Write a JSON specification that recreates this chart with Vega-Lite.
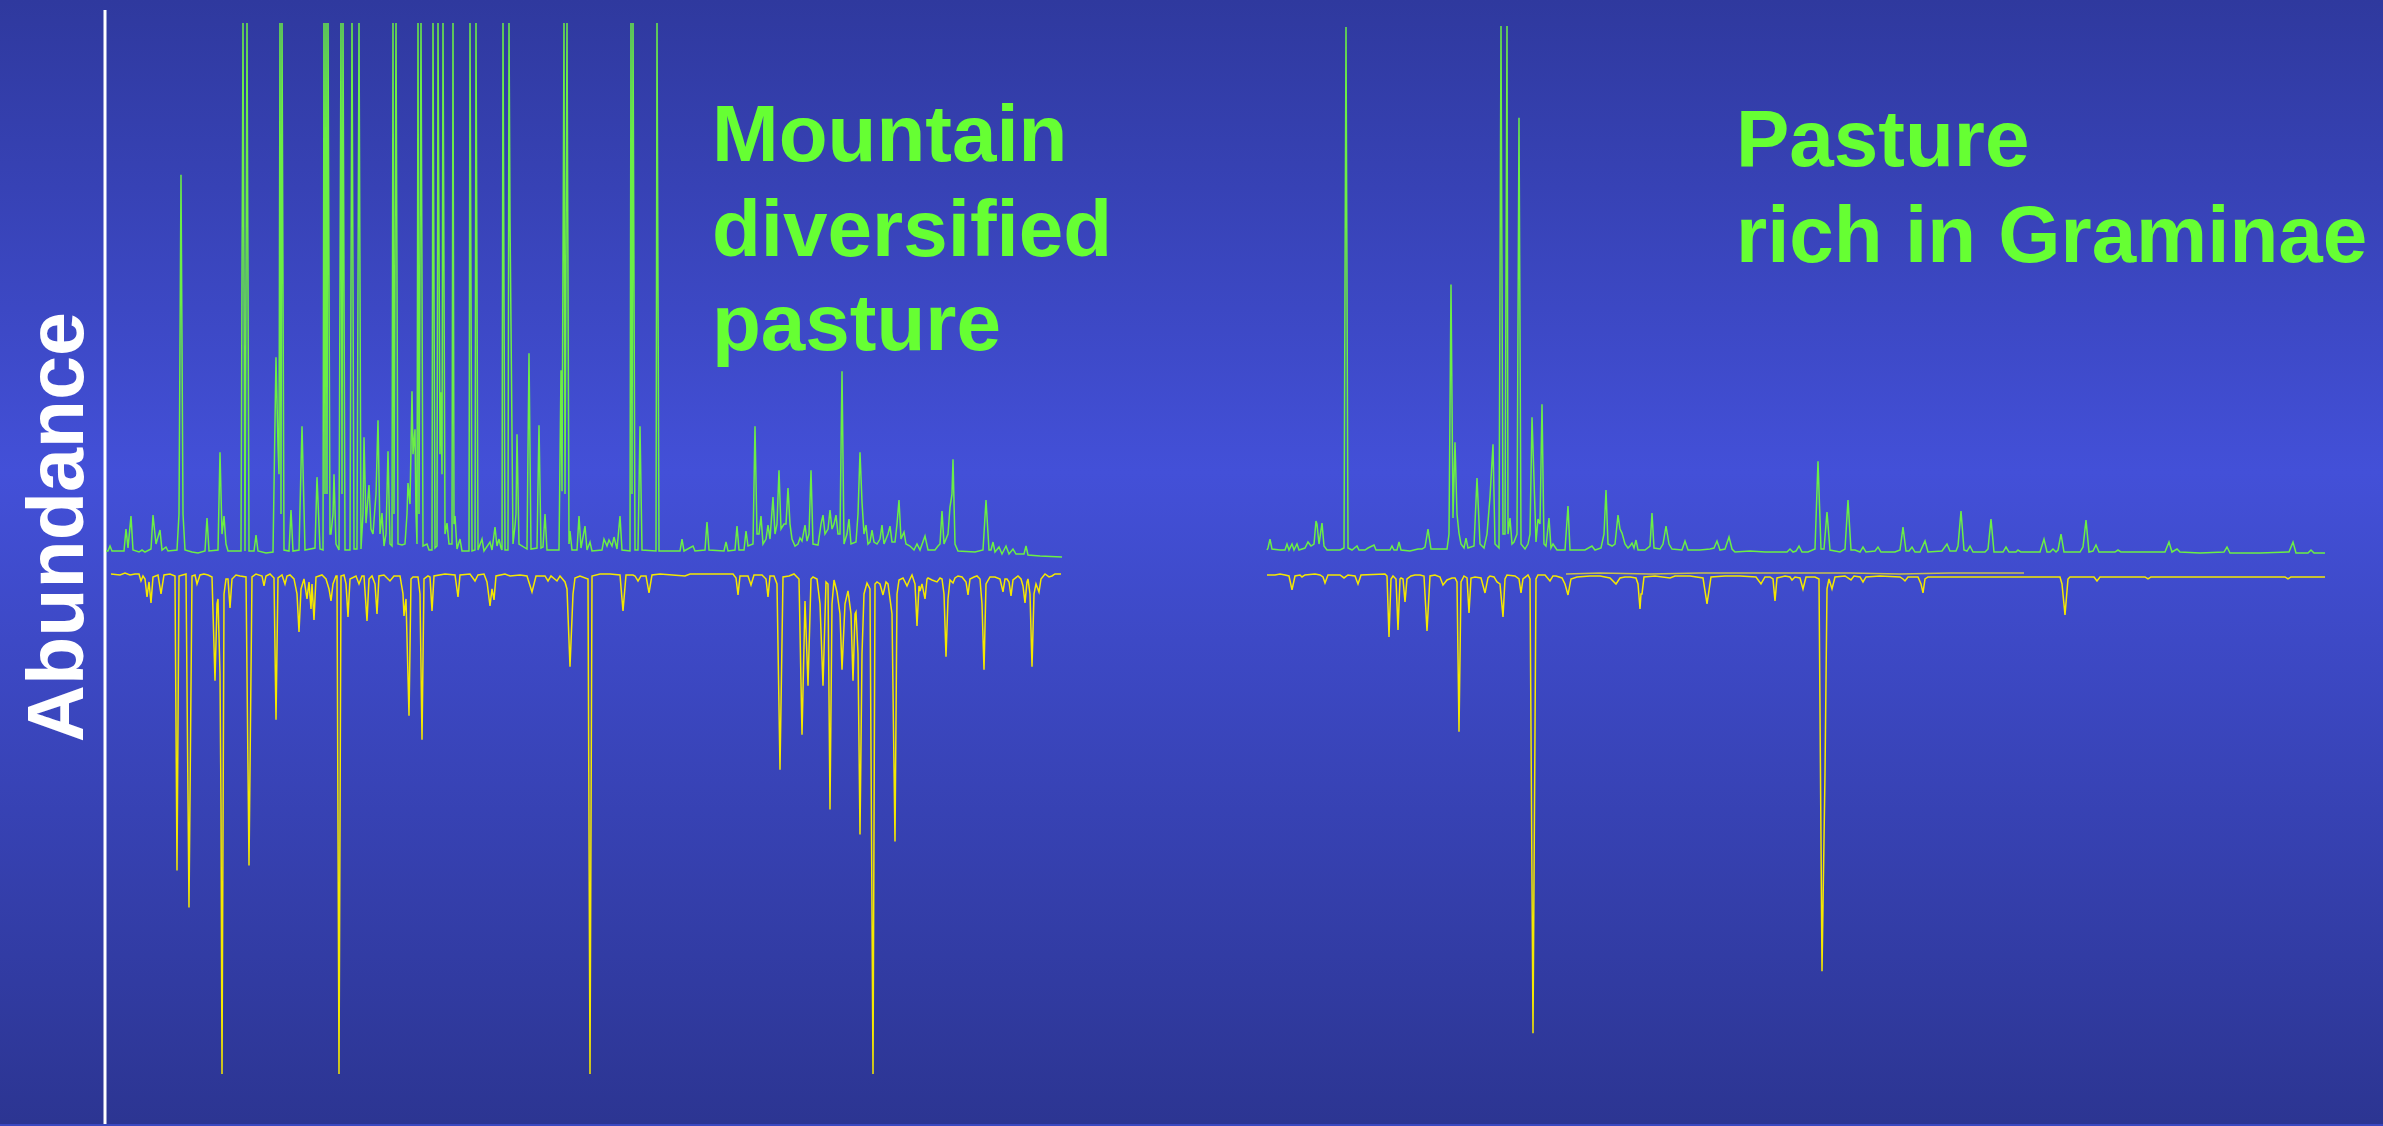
{
"$schema": "https://vega.github.io/schema/vega-lite/v6.json",
"width": 2383, "height": 1126,
"autosize": {"type": "fit", "contains": "padding"},
"padding": 0,
"background": "#3A47C0",
"config": {"view": {"stroke": null}},
"layer": [
{"data": {"values": [{"x0": 0, "x1": 2383, "a0": -551, "a1": 575}]},
 "mark": {"type": "rect", "color": {"gradient": "linear", "x1": 0, "y1": 0, "x2": 0, "y2": 1, "stops": [{"offset": 0, "color": "#2F399E"}, {"offset": 0.42, "color": "#4350D8"}, {"offset": 1, "color": "#2C3592"}]}},
 "encoding": {"x": {"field": "x0", "type": "quantitative", "scale": {"domain": [0, 2383], "nice": false, "zero": false}, "axis": null}, "x2": {"field": "x1"},
  "y": {"field": "a0", "type": "quantitative", "scale": {"domain": [-551, 575], "nice": false, "zero": false}, "axis": null}, "y2": {"field": "a1"}}},
{"data": {"values": [{"x": 105, "a0": 565, "a1": -551}]},
 "mark": {"type": "rule", "color": "#FFFFFF", "strokeWidth": 3},
 "encoding": {"x": {"field": "x", "type": "quantitative", "scale": {"domain": [0, 2383], "nice": false, "zero": false}, "axis": null},
  "y": {"field": "a0", "type": "quantitative", "scale": {"domain": [-551, 575], "nice": false, "zero": false}, "axis": null}, "y2": {"field": "a1"}}},
{"data": {"values": [
{"x":106,"a":23},{"x":108,"a":23},{"x":110,"a":28},{"x":112,"a":23},{"x":124,"a":23},{"x":126,"a":45},{"x":128,"a":26},{"x":131,"a":58},{"x":133,"a":24},{"x":139,"a":22},{"x":142,"a":24},{"x":145,"a":22},{"x":151,"a":25},{"x":153,"a":59},{"x":156,"a":30},{"x":160,"a":44},{"x":162,"a":24},{"x":166,"a":27},{"x":168,"a":23},{"x":177,"a":24},{"x":179,"a":60},{"x":181,"a":400},{"x":183,"a":60},{"x":185,"a":24},{"x":192,"a":22},{"x":198,"a":21},{"x":205,"a":23},{"x":207,"a":56},{"x":209,"a":23},{"x":218,"a":24},{"x":220,"a":122},{"x":222,"a":40},{"x":224,"a":58},{"x":226,"a":30},{"x":228,"a":23},{"x":241,"a":23},{"x":243,"a":552},{"x":245,"a":23},{"x":247,"a":552},{"x":249,"a":23},{"x":254,"a":23},{"x":256,"a":39},{"x":258,"a":23},{"x":266,"a":21},{"x":273,"a":22},{"x":276,"a":217},{"x":278,"a":127},{"x":279,"a":100},{"x":280,"a":552},{"x":281,"a":60},{"x":282,"a":552},{"x":284,"a":24},{"x":289,"a":23},{"x":291,"a":64},{"x":293,"a":23},{"x":299,"a":24},{"x":302,"a":148},{"x":305,"a":24},{"x":315,"a":26},{"x":317,"a":97},{"x":320,"a":25},{"x":323,"a":24},{"x":324,"a":552},{"x":325,"a":80},{"x":326,"a":552},{"x":327,"a":80},{"x":328,"a":552},{"x":330,"a":40},{"x":331,"a":40},{"x":333,"a":60},{"x":334,"a":100},{"x":336,"a":30},{"x":339,"a":24},{"x":341,"a":552},{"x":342,"a":80},{"x":343,"a":552},{"x":345,"a":24},{"x":350,"a":24},{"x":352,"a":552},{"x":354,"a":25},{"x":357,"a":25},{"x":359,"a":552},{"x":361,"a":25},{"x":363,"a":60},{"x":364,"a":137},{"x":366,"a":51},{"x":369,"a":89},{"x":371,"a":45},{"x":373,"a":40},{"x":376,"a":80},{"x":378,"a":154},{"x":380,"a":40},{"x":382,"a":61},{"x":384,"a":28},{"x":386,"a":40},{"x":388,"a":123},{"x":390,"a":30},{"x":392,"a":28},{"x":393,"a":552},{"x":394,"a":60},{"x":396,"a":552},{"x":398,"a":30},{"x":402,"a":29},{"x":405,"a":30},{"x":407,"a":60},{"x":408,"a":91},{"x":410,"a":70},{"x":412,"a":183},{"x":413,"a":120},{"x":415,"a":145},{"x":416,"a":60},{"x":417,"a":30},{"x":418,"a":552},{"x":419,"a":60},{"x":421,"a":552},{"x":423,"a":28},{"x":427,"a":30},{"x":429,"a":24},{"x":432,"a":24},{"x":433,"a":552},{"x":435,"a":26},{"x":437,"a":28},{"x":438,"a":552},{"x":440,"a":120},{"x":441,"a":182},{"x":442,"a":100},{"x":443,"a":552},{"x":445,"a":40},{"x":447,"a":51},{"x":449,"a":30},{"x":452,"a":30},{"x":453,"a":552},{"x":454,"a":50},{"x":455,"a":58},{"x":457,"a":25},{"x":460,"a":35},{"x":462,"a":23},{"x":469,"a":23},{"x":470,"a":552},{"x":472,"a":23},{"x":475,"a":24},{"x":476,"a":552},{"x":478,"a":24},{"x":482,"a":35},{"x":484,"a":23},{"x":490,"a":32},{"x":492,"a":24},{"x":495,"a":47},{"x":497,"a":28},{"x":499,"a":35},{"x":501,"a":26},{"x":502,"a":24},{"x":503,"a":552},{"x":505,"a":24},{"x":508,"a":24},{"x":509,"a":552},{"x":510,"a":356},{"x":511,"a":250},{"x":513,"a":30},{"x":515,"a":48},{"x":516,"a":60},{"x":517,"a":140},{"x":519,"a":30},{"x":527,"a":25},{"x":529,"a":221},{"x":531,"a":25},{"x":537,"a":26},{"x":539,"a":149},{"x":541,"a":26},{"x":543,"a":27},{"x":545,"a":60},{"x":547,"a":24},{"x":559,"a":24},{"x":561,"a":204},{"x":562,"a":83},{"x":564,"a":552},{"x":565,"a":80},{"x":567,"a":552},{"x":569,"a":30},{"x":570,"a":43},{"x":572,"a":24},{"x":577,"a":24},{"x":579,"a":58},{"x":581,"a":26},{"x":585,"a":48},{"x":587,"a":24},{"x":590,"a":32},{"x":592,"a":23},{"x":602,"a":24},{"x":604,"a":35},{"x":607,"a":28},{"x":609,"a":34},{"x":612,"a":28},{"x":614,"a":37},{"x":617,"a":25},{"x":620,"a":58},{"x":622,"a":24},{"x":630,"a":23},{"x":631,"a":552},{"x":632,"a":80},{"x":633,"a":552},{"x":635,"a":24},{"x":638,"a":24},{"x":640,"a":148},{"x":642,"a":24},{"x":656,"a":23},{"x":657,"a":552},{"x":659,"a":23},{"x":670,"a":23},{"x":680,"a":23},{"x":682,"a":35},{"x":684,"a":23},{"x":693,"a":28},{"x":695,"a":23},{"x":705,"a":24},{"x":707,"a":52},{"x":709,"a":24},{"x":724,"a":23},{"x":726,"a":32},{"x":728,"a":23},{"x":735,"a":24},{"x":737,"a":48},{"x":739,"a":24},{"x":744,"a":24},{"x":746,"a":43},{"x":748,"a":28},{"x":753,"a":30},{"x":755,"a":148},{"x":757,"a":40},{"x":759,"a":40},{"x":761,"a":58},{"x":763,"a":30},{"x":766,"a":35},{"x":768,"a":49},{"x":770,"a":35},{"x":773,"a":77},{"x":775,"a":40},{"x":777,"a":50},{"x":779,"a":104},{"x":781,"a":45},{"x":784,"a":50},{"x":786,"a":50},{"x":788,"a":86},{"x":790,"a":50},{"x":792,"a":35},{"x":795,"a":28},{"x":798,"a":30},{"x":800,"a":36},{"x":802,"a":33},{"x":805,"a":49},{"x":807,"a":33},{"x":809,"a":40},{"x":811,"a":104},{"x":813,"a":30},{"x":818,"a":29},{"x":821,"a":50},{"x":823,"a":59},{"x":825,"a":40},{"x":828,"a":45},{"x":830,"a":64},{"x":832,"a":45},{"x":834,"a":50},{"x":836,"a":59},{"x":838,"a":40},{"x":840,"a":40},{"x":842,"a":203},{"x":844,"a":30},{"x":847,"a":40},{"x":849,"a":55},{"x":851,"a":30},{"x":856,"a":32},{"x":858,"a":60},{"x":860,"a":122},{"x":862,"a":72},{"x":864,"a":40},{"x":866,"a":49},{"x":868,"a":30},{"x":870,"a":32},{"x":872,"a":44},{"x":874,"a":32},{"x":877,"a":30},{"x":880,"a":35},{"x":882,"a":49},{"x":884,"a":30},{"x":888,"a":40},{"x":890,"a":48},{"x":892,"a":32},{"x":895,"a":32},{"x":897,"a":50},{"x":899,"a":74},{"x":901,"a":35},{"x":904,"a":42},{"x":906,"a":30},{"x":910,"a":28},{"x":914,"a":24},{"x":917,"a":30},{"x":920,"a":24},{"x":925,"a":38},{"x":928,"a":24},{"x":935,"a":24},{"x":938,"a":28},{"x":940,"a":30},{"x":942,"a":63},{"x":944,"a":30},{"x":948,"a":40},{"x":950,"a":67},{"x":952,"a":80},{"x":953,"a":115},{"x":955,"a":30},{"x":958,"a":23},{"x":975,"a":22},{"x":983,"a":24},{"x":986,"a":74},{"x":989,"a":24},{"x":991,"a":24},{"x":993,"a":32},{"x":995,"a":22},{"x":999,"a":27},{"x":1002,"a":20},{"x":1006,"a":28},{"x":1009,"a":20},{"x":1013,"a":25},{"x":1016,"a":20},{"x":1024,"a":20},{"x":1026,"a":28},{"x":1028,"a":19},{"x":1040,"a":18},{"x":1062,"a":17}
]},
 "mark": {"type": "line", "color": "#6BEF45", "strokeWidth": 1.5},
 "encoding": {"x": {"field": "x", "type": "quantitative", "scale": {"domain": [0, 2383], "nice": false, "zero": false}, "axis": null},
  "y": {"field": "a", "type": "quantitative", "scale": {"domain": [-551, 575], "nice": false, "zero": false}, "axis": null}}},
{"data": {"values": [
{"x":111,"a":0},{"x":120,"a":-1},{"x":125,"a":1},{"x":130,"a":-1},{"x":135,"a":0},{"x":139,"a":0},{"x":141,"a":-7},{"x":143,"a":-2},{"x":145,"a":-5},{"x":147,"a":-23},{"x":149,"a":-8},{"x":151,"a":-29},{"x":153,"a":-3},{"x":158,"a":-1},{"x":161,"a":-20},{"x":164,"a":-1},{"x":170,"a":0},{"x":175,"a":-2},{"x":177,"a":-297},{"x":179,"a":-2},{"x":186,"a":0},{"x":189,"a":-334},{"x":192,"a":-2},{"x":195,"a":-1},{"x":197,"a":-10},{"x":200,"a":-1},{"x":204,"a":0},{"x":208,"a":-1},{"x":212,"a":-3},{"x":215,"a":-107},{"x":217,"a":-30},{"x":218,"a":-25},{"x":220,"a":-100},{"x":221,"a":-232},{"x":222,"a":-501},{"x":224,"a":-20},{"x":226,"a":-5},{"x":228,"a":-5},{"x":230,"a":-34},{"x":232,"a":-5},{"x":236,"a":-1},{"x":240,"a":-2},{"x":246,"a":-3},{"x":249,"a":-292},{"x":252,"a":-3},{"x":256,"a":0},{"x":262,"a":-2},{"x":264,"a":-12},{"x":266,"a":-2},{"x":270,"a":0},{"x":274,"a":-4},{"x":276,"a":-146},{"x":278,"a":-4},{"x":282,"a":-1},{"x":285,"a":-10},{"x":287,"a":-2},{"x":290,"a":-1},{"x":294,"a":-5},{"x":297,"a":-20},{"x":299,"a":-58},{"x":301,"a":-15},{"x":304,"a":-5},{"x":307,"a":-25},{"x":309,"a":-8},{"x":311,"a":-35},{"x":312,"a":-10},{"x":314,"a":-46},{"x":316,"a":-3},{"x":322,"a":-1},{"x":326,"a":-5},{"x":329,"a":-15},{"x":331,"a":-27},{"x":333,"a":-10},{"x":336,"a":-2},{"x":337,"a":-2},{"x":339,"a":-501},{"x":341,"a":-2},{"x":344,"a":-1},{"x":346,"a":-10},{"x":348,"a":-43},{"x":350,"a":-5},{"x":356,"a":-2},{"x":359,"a":-10},{"x":362,"a":-2},{"x":364,"a":-2},{"x":367,"a":-47},{"x":369,"a":-5},{"x":372,"a":-2},{"x":375,"a":-10},{"x":377,"a":-40},{"x":379,"a":-2},{"x":384,"a":-1},{"x":390,"a":-7},{"x":394,"a":-2},{"x":400,"a":-2},{"x":403,"a":-20},{"x":404,"a":-42},{"x":406,"a":-25},{"x":409,"a":-142},{"x":411,"a":-5},{"x":413,"a":-3},{"x":418,"a":-3},{"x":420,"a":-20},{"x":422,"a":-166},{"x":424,"a":-5},{"x":428,"a":-2},{"x":430,"a":-3},{"x":432,"a":-37},{"x":434,"a":-2},{"x":445,"a":0},{"x":455,"a":-1},{"x":458,"a":-23},{"x":460,"a":-1},{"x":470,"a":0},{"x":475,"a":-7},{"x":478,"a":-1},{"x":484,"a":0},{"x":487,"a":-8},{"x":490,"a":-32},{"x":492,"a":-15},{"x":494,"a":-26},{"x":496,"a":-2},{"x":505,"a":0},{"x":510,"a":-2},{"x":520,"a":-1},{"x":527,"a":-2},{"x":532,"a":-18},{"x":536,"a":-2},{"x":545,"a":-2},{"x":548,"a":-7},{"x":551,"a":-2},{"x":557,"a":-7},{"x":560,"a":-2},{"x":565,"a":-8},{"x":567,"a":-15},{"x":570,"a":-93},{"x":573,"a":-20},{"x":575,"a":-4},{"x":580,"a":-2},{"x":588,"a":-5},{"x":590,"a":-501},{"x":592,"a":-2},{"x":600,"a":0},{"x":610,"a":0},{"x":620,"a":-1},{"x":623,"a":-37},{"x":626,"a":-1},{"x":633,"a":-1},{"x":635,"a":-2},{"x":638,"a":-7},{"x":641,"a":-2},{"x":646,"a":-2},{"x":649,"a":-19},{"x":652,"a":-1},{"x":660,"a":0},{"x":685,"a":-2},{"x":690,"a":0},{"x":733,"a":0},{"x":736,"a":-4},{"x":738,"a":-21},{"x":740,"a":-2},{"x":745,"a":-2},{"x":748,"a":-2},{"x":751,"a":-11},{"x":754,"a":-1},{"x":762,"a":-1},{"x":766,"a":-5},{"x":768,"a":-23},{"x":770,"a":-2},{"x":774,"a":-2},{"x":777,"a":-10},{"x":780,"a":-196},{"x":783,"a":-3},{"x":789,"a":-2},{"x":794,"a":0},{"x":799,"a":-5},{"x":802,"a":-161},{"x":805,"a":-27},{"x":808,"a":-112},{"x":811,"a":-5},{"x":813,"a":-3},{"x":817,"a":-5},{"x":820,"a":-30},{"x":823,"a":-112},{"x":826,"a":-8},{"x":828,"a":-10},{"x":830,"a":-236},{"x":832,"a":-30},{"x":834,"a":-6},{"x":837,"a":-18},{"x":840,"a":-40},{"x":842,"a":-96},{"x":845,"a":-30},{"x":848,"a":-17},{"x":851,"a":-40},{"x":853,"a":-107},{"x":855,"a":-40},{"x":856,"a":-38},{"x":858,"a":-80},{"x":860,"a":-261},{"x":862,"a":-80},{"x":864,"a":-20},{"x":867,"a":-9},{"x":870,"a":-15},{"x":873,"a":-501},{"x":875,"a":-10},{"x":877,"a":-8},{"x":880,"a":-10},{"x":883,"a":-21},{"x":886,"a":-8},{"x":888,"a":-10},{"x":892,"a":-40},{"x":895,"a":-268},{"x":897,"a":-20},{"x":899,"a":-6},{"x":903,"a":-4},{"x":907,"a":-12},{"x":910,"a":-5},{"x":912,"a":-1},{"x":915,"a":-10},{"x":917,"a":-52},{"x":919,"a":-12},{"x":920,"a":-17},{"x":922,"a":-10},{"x":925,"a":-25},{"x":927,"a":-5},{"x":928,"a":-4},{"x":932,"a":-6},{"x":937,"a":-8},{"x":940,"a":-4},{"x":942,"a":-5},{"x":944,"a":-20},{"x":946,"a":-83},{"x":948,"a":-25},{"x":950,"a":-6},{"x":953,"a":-9},{"x":955,"a":-4},{"x":958,"a":-2},{"x":962,"a":-3},{"x":966,"a":-8},{"x":968,"a":-21},{"x":970,"a":-5},{"x":974,"a":-3},{"x":977,"a":-2},{"x":980,"a":-5},{"x":982,"a":-30},{"x":984,"a":-96},{"x":986,"a":-10},{"x":990,"a":-3},{"x":995,"a":-3},{"x":1000,"a":-5},{"x":1003,"a":-18},{"x":1005,"a":-5},{"x":1007,"a":-5},{"x":1009,"a":-8},{"x":1011,"a":-22},{"x":1013,"a":-6},{"x":1018,"a":-2},{"x":1021,"a":-5},{"x":1023,"a":-12},{"x":1025,"a":-29},{"x":1027,"a":-8},{"x":1028,"a":-5},{"x":1030,"a":-20},{"x":1032,"a":-93},{"x":1034,"a":-20},{"x":1036,"a":-10},{"x":1039,"a":-18},{"x":1041,"a":-5},{"x":1045,"a":0},{"x":1049,"a":-3},{"x":1052,"a":-2},{"x":1055,"a":0},{"x":1061,"a":0}
]},
 "mark": {"type": "line", "color": "#F5E800", "strokeWidth": 1.5},
 "encoding": {"x": {"field": "x", "type": "quantitative", "scale": {"domain": [0, 2383], "nice": false, "zero": false}, "axis": null},
  "y": {"field": "a", "type": "quantitative", "scale": {"domain": [-551, 575], "nice": false, "zero": false}, "axis": null}}},
{"data": {"values": [
{"x":1267,"a":24},{"x":1268,"a":26},{"x":1270,"a":35},{"x":1272,"a":25},{"x":1280,"a":24},{"x":1285,"a":24},{"x":1287,"a":30},{"x":1289,"a":24},{"x":1292,"a":30},{"x":1294,"a":24},{"x":1297,"a":30},{"x":1299,"a":24},{"x":1305,"a":26},{"x":1308,"a":32},{"x":1311,"a":28},{"x":1314,"a":30},{"x":1316,"a":53},{"x":1317,"a":50},{"x":1319,"a":30},{"x":1322,"a":51},{"x":1324,"a":28},{"x":1327,"a":24},{"x":1340,"a":24},{"x":1344,"a":26},{"x":1346,"a":548},{"x":1348,"a":26},{"x":1352,"a":24},{"x":1357,"a":28},{"x":1359,"a":24},{"x":1365,"a":24},{"x":1368,"a":26},{"x":1374,"a":29},{"x":1376,"a":24},{"x":1390,"a":24},{"x":1392,"a":28},{"x":1394,"a":24},{"x":1397,"a":24},{"x":1399,"a":32},{"x":1401,"a":24},{"x":1410,"a":23},{"x":1418,"a":25},{"x":1422,"a":25},{"x":1425,"a":27},{"x":1428,"a":45},{"x":1431,"a":25},{"x":1447,"a":25},{"x":1449,"a":40},{"x":1451,"a":290},{"x":1453,"a":56},{"x":1455,"a":132},{"x":1457,"a":60},{"x":1459,"a":41},{"x":1461,"a":30},{"x":1464,"a":26},{"x":1466,"a":36},{"x":1468,"a":26},{"x":1474,"a":28},{"x":1477,"a":96},{"x":1480,"a":30},{"x":1484,"a":26},{"x":1487,"a":40},{"x":1490,"a":77},{"x":1493,"a":130},{"x":1495,"a":30},{"x":1499,"a":26},{"x":1501,"a":549},{"x":1503,"a":40},{"x":1505,"a":40},{"x":1507,"a":549},{"x":1508,"a":40},{"x":1510,"a":56},{"x":1512,"a":30},{"x":1514,"a":32},{"x":1517,"a":40},{"x":1519,"a":457},{"x":1521,"a":30},{"x":1525,"a":25},{"x":1528,"a":30},{"x":1530,"a":40},{"x":1532,"a":157},{"x":1534,"a":95},{"x":1536,"a":32},{"x":1538,"a":55},{"x":1540,"a":50},{"x":1542,"a":170},{"x":1544,"a":30},{"x":1546,"a":28},{"x":1549,"a":56},{"x":1551,"a":26},{"x":1553,"a":30},{"x":1557,"a":24},{"x":1565,"a":24},{"x":1568,"a":68},{"x":1570,"a":24},{"x":1580,"a":24},{"x":1585,"a":24},{"x":1592,"a":28},{"x":1595,"a":24},{"x":1601,"a":26},{"x":1604,"a":40},{"x":1606,"a":84},{"x":1608,"a":30},{"x":1612,"a":28},{"x":1615,"a":30},{"x":1618,"a":59},{"x":1620,"a":45},{"x":1622,"a":41},{"x":1625,"a":30},{"x":1628,"a":26},{"x":1630,"a":28},{"x":1632,"a":31},{"x":1634,"a":26},{"x":1636,"a":34},{"x":1638,"a":24},{"x":1645,"a":24},{"x":1650,"a":28},{"x":1652,"a":61},{"x":1654,"a":26},{"x":1660,"a":25},{"x":1663,"a":30},{"x":1666,"a":48},{"x":1669,"a":30},{"x":1672,"a":25},{"x":1682,"a":24},{"x":1685,"a":33},{"x":1688,"a":24},{"x":1700,"a":24},{"x":1710,"a":25},{"x":1714,"a":26},{"x":1717,"a":33},{"x":1720,"a":24},{"x":1725,"a":25},{"x":1729,"a":37},{"x":1732,"a":25},{"x":1735,"a":22},{"x":1750,"a":23},{"x":1765,"a":22},{"x":1780,"a":22},{"x":1787,"a":22},{"x":1790,"a":25},{"x":1793,"a":22},{"x":1796,"a":23},{"x":1799,"a":28},{"x":1802,"a":22},{"x":1808,"a":22},{"x":1815,"a":25},{"x":1818,"a":113},{"x":1821,"a":25},{"x":1824,"a":25},{"x":1827,"a":62},{"x":1830,"a":24},{"x":1840,"a":22},{"x":1845,"a":25},{"x":1848,"a":74},{"x":1851,"a":24},{"x":1855,"a":24},{"x":1860,"a":22},{"x":1863,"a":27},{"x":1866,"a":22},{"x":1875,"a":23},{"x":1878,"a":27},{"x":1881,"a":22},{"x":1895,"a":22},{"x":1900,"a":24},{"x":1903,"a":47},{"x":1906,"a":23},{"x":1909,"a":23},{"x":1912,"a":27},{"x":1915,"a":22},{"x":1920,"a":22},{"x":1925,"a":33},{"x":1928,"a":22},{"x":1942,"a":23},{"x":1947,"a":30},{"x":1950,"a":23},{"x":1956,"a":23},{"x":1958,"a":28},{"x":1961,"a":63},{"x":1964,"a":24},{"x":1967,"a":23},{"x":1970,"a":28},{"x":1973,"a":22},{"x":1985,"a":22},{"x":1988,"a":25},{"x":1991,"a":55},{"x":1994,"a":22},{"x":2003,"a":22},{"x":2006,"a":27},{"x":2009,"a":22},{"x":2016,"a":22},{"x":2018,"a":24},{"x":2021,"a":22},{"x":2040,"a":22},{"x":2044,"a":35},{"x":2047,"a":22},{"x":2050,"a":22},{"x":2053,"a":25},{"x":2056,"a":22},{"x":2058,"a":24},{"x":2061,"a":40},{"x":2064,"a":22},{"x":2080,"a":22},{"x":2083,"a":27},{"x":2086,"a":54},{"x":2089,"a":22},{"x":2093,"a":23},{"x":2096,"a":29},{"x":2099,"a":22},{"x":2115,"a":22},{"x":2118,"a":24},{"x":2121,"a":22},{"x":2140,"a":22},{"x":2145,"a":22},{"x":2165,"a":22},{"x":2169,"a":32},{"x":2172,"a":22},{"x":2177,"a":25},{"x":2180,"a":22},{"x":2200,"a":21},{"x":2224,"a":22},{"x":2227,"a":27},{"x":2230,"a":21},{"x":2260,"a":21},{"x":2289,"a":22},{"x":2293,"a":32},{"x":2296,"a":21},{"x":2308,"a":21},{"x":2311,"a":24},{"x":2314,"a":21},{"x":2325,"a":21}
]},
 "mark": {"type": "line", "color": "#6BEF45", "strokeWidth": 1.5},
 "encoding": {"x": {"field": "x", "type": "quantitative", "scale": {"domain": [0, 2383], "nice": false, "zero": false}, "axis": null},
  "y": {"field": "a", "type": "quantitative", "scale": {"domain": [-551, 575], "nice": false, "zero": false}, "axis": null}}},
{"data": {"values": [
{"x":1566,"a":0},{"x":1600,"a":1},{"x":1650,"a":0},{"x":1700,"a":1},{"x":1780,"a":1},{"x":1850,"a":1},{"x":1900,"a":0},{"x":1950,"a":1},{"x":2024,"a":1}
]},
 "mark": {"type": "line", "color": "#C9C050", "strokeWidth": 1.4},
 "encoding": {"x": {"field": "x", "type": "quantitative", "scale": {"domain": [0, 2383], "nice": false, "zero": false}, "axis": null},
  "y": {"field": "a", "type": "quantitative", "scale": {"domain": [-551, 575], "nice": false, "zero": false}, "axis": null}}},
{"data": {"values": [
{"x":1267,"a":-1},{"x":1275,"a":-1},{"x":1280,"a":0},{"x":1285,"a":-1},{"x":1289,"a":-2},{"x":1292,"a":-16},{"x":1295,"a":-2},{"x":1300,"a":-1},{"x":1302,"a":-3},{"x":1305,"a":-1},{"x":1315,"a":0},{"x":1320,"a":-1},{"x":1323,"a":-3},{"x":1325,"a":-9},{"x":1328,"a":-1},{"x":1340,"a":-1},{"x":1344,"a":-4},{"x":1348,"a":-1},{"x":1355,"a":-2},{"x":1358,"a":-10},{"x":1361,"a":-1},{"x":1385,"a":0},{"x":1387,"a":-2},{"x":1389,"a":-63},{"x":1391,"a":-5},{"x":1393,"a":-2},{"x":1396,"a":-5},{"x":1398,"a":-56},{"x":1400,"a":-5},{"x":1401,"a":-4},{"x":1403,"a":-5},{"x":1405,"a":-28},{"x":1407,"a":-5},{"x":1411,"a":-2},{"x":1415,"a":-1},{"x":1420,"a":-1},{"x":1424,"a":-2},{"x":1427,"a":-57},{"x":1430,"a":-2},{"x":1435,"a":-1},{"x":1440,"a":-3},{"x":1443,"a":-11},{"x":1447,"a":-6},{"x":1452,"a":-4},{"x":1455,"a":-4},{"x":1457,"a":-8},{"x":1459,"a":-158},{"x":1461,"a":-8},{"x":1464,"a":-2},{"x":1467,"a":-4},{"x":1469,"a":-39},{"x":1471,"a":-4},{"x":1475,"a":-3},{"x":1481,"a":-4},{"x":1485,"a":-19},{"x":1488,"a":-4},{"x":1490,"a":-2},{"x":1494,"a":-3},{"x":1497,"a":-8},{"x":1500,"a":-10},{"x":1503,"a":-43},{"x":1505,"a":-5},{"x":1507,"a":-1},{"x":1515,"a":-2},{"x":1519,"a":-5},{"x":1521,"a":-19},{"x":1523,"a":-5},{"x":1528,"a":-1},{"x":1530,"a":-5},{"x":1533,"a":-460},{"x":1536,"a":-5},{"x":1538,"a":-1},{"x":1545,"a":-1},{"x":1550,"a":-7},{"x":1553,"a":-2},{"x":1556,"a":-2},{"x":1562,"a":-4},{"x":1565,"a":-10},{"x":1568,"a":-21},{"x":1571,"a":-5},{"x":1577,"a":-3},{"x":1590,"a":-2},{"x":1600,"a":-2},{"x":1610,"a":-4},{"x":1616,"a":-10},{"x":1620,"a":-4},{"x":1625,"a":-3},{"x":1630,"a":-3},{"x":1636,"a":-4},{"x":1638,"a":-10},{"x":1640,"a":-35},{"x":1641,"a":-20},{"x":1642,"a":-20},{"x":1644,"a":-3},{"x":1655,"a":-2},{"x":1670,"a":-4},{"x":1675,"a":-2},{"x":1690,"a":-2},{"x":1703,"a":-4},{"x":1707,"a":-30},{"x":1711,"a":-3},{"x":1725,"a":-2},{"x":1740,"a":-2},{"x":1756,"a":-3},{"x":1761,"a":-10},{"x":1765,"a":-3},{"x":1770,"a":-3},{"x":1773,"a":-5},{"x":1775,"a":-27},{"x":1777,"a":-4},{"x":1785,"a":-2},{"x":1790,"a":-3},{"x":1792,"a":-6},{"x":1795,"a":-3},{"x":1800,"a":-4},{"x":1803,"a":-15},{"x":1806,"a":-3},{"x":1815,"a":-3},{"x":1819,"a":-5},{"x":1822,"a":-398},{"x":1825,"a":-200},{"x":1827,"a":-15},{"x":1829,"a":-5},{"x":1832,"a":-15},{"x":1835,"a":-3},{"x":1845,"a":-2},{"x":1851,"a":-6},{"x":1854,"a":-2},{"x":1860,"a":-3},{"x":1863,"a":-8},{"x":1866,"a":-3},{"x":1880,"a":-2},{"x":1900,"a":-3},{"x":1903,"a":-5},{"x":1905,"a":-7},{"x":1908,"a":-3},{"x":1918,"a":-3},{"x":1921,"a":-10},{"x":1923,"a":-19},{"x":1925,"a":-5},{"x":1928,"a":-3},{"x":1960,"a":-3},{"x":2000,"a":-3},{"x":2060,"a":-3},{"x":2062,"a":-10},{"x":2065,"a":-41},{"x":2068,"a":-5},{"x":2070,"a":-3},{"x":2094,"a":-3},{"x":2097,"a":-7},{"x":2100,"a":-3},{"x":2145,"a":-3},{"x":2148,"a":-5},{"x":2151,"a":-3},{"x":2200,"a":-3},{"x":2285,"a":-3},{"x":2288,"a":-5},{"x":2291,"a":-3},{"x":2325,"a":-3}
]},
 "mark": {"type": "line", "color": "#F5E800", "strokeWidth": 1.5},
 "encoding": {"x": {"field": "x", "type": "quantitative", "scale": {"domain": [0, 2383], "nice": false, "zero": false}, "axis": null},
  "y": {"field": "a", "type": "quantitative", "scale": {"domain": [-551, 575], "nice": false, "zero": false}, "axis": null}}},
{"data": {"values": [
{"x": 712, "a": 414, "label": "Mountain"},
{"x": 712, "a": 319, "label": "diversified"},
{"x": 712, "a": 224, "label": "pasture"},
{"x": 1736, "a": 409, "label": "Pasture"},
{"x": 1736, "a": 313, "label": "rich in Graminae"}
]},
 "mark": {"type": "text", "align": "left", "baseline": "alphabetic", "font": "Liberation Sans", "fontWeight": "bold", "fontSize": 80, "color": "#66FF33"},
 "encoding": {"x": {"field": "x", "type": "quantitative", "scale": {"domain": [0, 2383], "nice": false, "zero": false}, "axis": null},
  "y": {"field": "a", "type": "quantitative", "scale": {"domain": [-551, 575], "nice": false, "zero": false}, "axis": null},
  "text": {"field": "label"}}},
{"data": {"values": [{"x": 83, "a": 47, "label": "Abundance"}]},
 "mark": {"type": "text", "align": "center", "baseline": "alphabetic", "angle": 270, "font": "Liberation Sans", "fontWeight": "bold", "fontSize": 79, "color": "#FFFFFF"},
 "encoding": {"x": {"field": "x", "type": "quantitative", "scale": {"domain": [0, 2383], "nice": false, "zero": false}, "axis": null},
  "y": {"field": "a", "type": "quantitative", "scale": {"domain": [-551, 575], "nice": false, "zero": false}, "axis": null},
  "text": {"field": "label"}}}
]
}
